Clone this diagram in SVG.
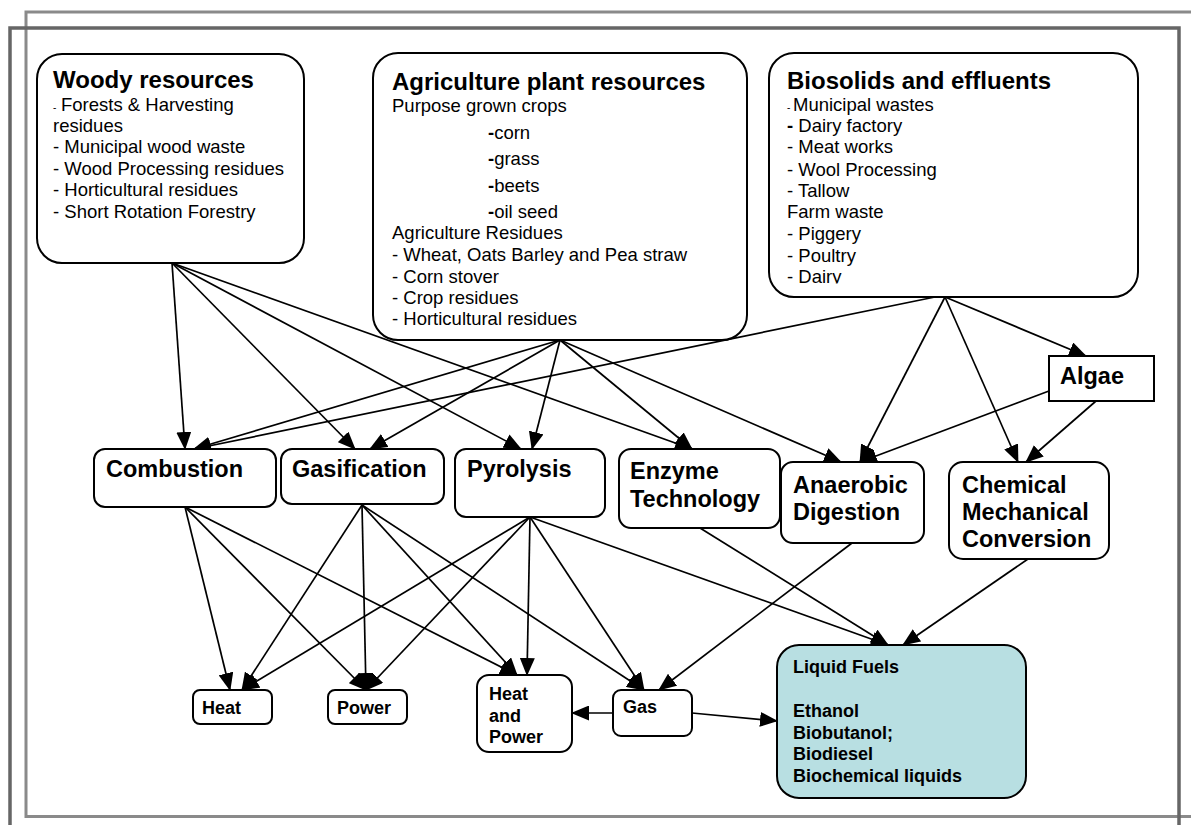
<svg xmlns="http://www.w3.org/2000/svg" width="1191" height="825" viewBox="0 0 1191 825">
<style>
.box{fill:#fff;stroke:#000;stroke-width:2}
.t{font-family:"Liberation Sans",Arial,Helvetica,sans-serif;fill:#000}
.title{font-size:24px;font-weight:bold}
.body{font-size:18.5px}
.mid{font-size:23.5px;font-weight:bold}
.sm{font-size:18px;font-weight:bold}
.conn line{stroke:#000;stroke-width:1.7;marker-end:url(#ah)}
</style>
<defs>
<marker id="ah" markerWidth="18" markerHeight="15" refX="17" refY="7.5" orient="auto" markerUnits="userSpaceOnUse"><path d="M0,0 L18,7.5 L0,15 z" fill="#000"/></marker>
<clipPath id="bioclip"><rect x="760" y="40" width="400" height="243.5"/></clipPath>
</defs>
<rect width="1191" height="825" fill="#fff"/>
<g id="frame" fill="none">
<rect x="26" y="12" width="1180" height="804.5" stroke="#8a8a8a" stroke-width="3"/>
<rect x="10" y="28" width="1169" height="810" stroke="#666" stroke-width="3.5"/>
</g>
<g id="connectors" class="conn">
<line x1="172" y1="263" x2="185" y2="449"/>
<line x1="172" y1="263" x2="355" y2="449"/>
<line x1="172" y1="263" x2="521" y2="449"/>
<line x1="172" y1="263" x2="692" y2="449"/>
<line x1="560" y1="340" x2="194" y2="449"/>
<line x1="560" y1="340" x2="370" y2="449"/>
<line x1="560" y1="340" x2="532" y2="449"/>
<line x1="560" y1="340" x2="692" y2="449"/>
<line x1="560" y1="340" x2="841" y2="462"/>
<line x1="935" y1="297" x2="194" y2="449"/>
<line x1="945" y1="297" x2="860" y2="462"/>
<line x1="945" y1="297" x2="1018" y2="462"/>
<line x1="945" y1="297" x2="1086" y2="356"/>
<line x1="1049" y1="391" x2="860" y2="462"/>
<line x1="1096" y1="401" x2="1026" y2="462"/>
<line x1="185" y1="507" x2="230" y2="690"/>
<line x1="185" y1="507" x2="366" y2="690"/>
<line x1="185" y1="507" x2="517" y2="675"/>
<line x1="362" y1="505" x2="242" y2="690"/>
<line x1="362" y1="505" x2="366" y2="690"/>
<line x1="362" y1="505" x2="517" y2="675"/>
<line x1="362" y1="505" x2="644" y2="690"/>
<line x1="530" y1="517" x2="242" y2="690"/>
<line x1="530" y1="517" x2="366" y2="690"/>
<line x1="530" y1="517" x2="527" y2="675"/>
<line x1="530" y1="517" x2="644" y2="690"/>
<line x1="530" y1="517" x2="888" y2="645"/>
<line x1="700" y1="528" x2="888" y2="645"/>
<line x1="852" y1="543" x2="659" y2="690"/>
<line x1="1028" y1="559" x2="903" y2="645"/>
<line x1="613" y1="713" x2="572" y2="713"/>
<line x1="692" y1="713" x2="777" y2="721"/>
</g>
<g id="woody">
<rect class="box" x="37" y="54" width="267" height="209" rx="25"/>
<text class="t title" x="53" y="88">Woody resources</text>
<text class="t body" x="53" y="111"><tspan font-size="10">-</tspan><tspan x="61">Forests &amp; Harvesting</tspan></text>
<text class="t body" x="53" y="132">residues</text>
<text class="t body" x="53" y="153">- Municipal wood waste</text>
<text class="t body" x="53" y="175">- Wood Processing residues</text>
<text class="t body" x="53" y="196">- Horticultural residues</text>
<text class="t body" x="53" y="218">- Short Rotation Forestry</text>
</g>
<g id="agriculture">
<rect class="box" x="373" y="53" width="374" height="287" rx="25"/>
<text class="t title" x="392" y="90">Agriculture plant resources</text>
<text class="t body" x="392" y="112">Purpose grown crops</text>
<text class="t body" x="488" y="139"><tspan font-weight="bold">-</tspan>corn</text>
<text class="t body" x="488" y="165"><tspan font-weight="bold">-</tspan>grass</text>
<text class="t body" x="488" y="192"><tspan font-weight="bold">-</tspan>beets</text>
<text class="t body" x="488" y="218"><tspan font-weight="bold">-</tspan>oil seed</text>
<text class="t body" x="392" y="239">Agriculture Residues</text>
<text class="t body" x="392" y="261">- Wheat, Oats Barley and Pea straw</text>
<text class="t body" x="392" y="283">- Corn stover</text>
<text class="t body" x="392" y="304">- Crop residues</text>
<text class="t body" x="392" y="325">- Horticultural residues</text>
</g>
<g id="biosolids">
<rect class="box" x="769" y="53" width="369" height="244" rx="25"/>
<text class="t title" x="787" y="89">Biosolids and effluents</text>
<g clip-path="url(#bioclip)">
<text class="t body" x="787" y="111"><tspan font-size="10">-</tspan><tspan x="793">Municipal wastes</tspan></text>
<text class="t body" x="787" y="132"><tspan font-weight="bold">-</tspan> Dairy factory</text>
<text class="t body" x="787" y="153">- Meat works</text>
<text class="t body" x="787" y="176">- Wool Processing</text>
<text class="t body" x="787" y="197">- Tallow</text>
<text class="t body" x="787" y="218">Farm waste</text>
<text class="t body" x="787" y="240">- Piggery</text>
<text class="t body" x="787" y="262">- Poultry</text>
<text class="t body" x="787" y="283">- Dairy</text>
</g>
</g>
<g id="combustion">
<rect class="box" x="94" y="449" width="182" height="58" rx="11"/>
<text class="t mid" x="106" y="477">Combustion</text>
</g>
<g id="gasification">
<rect class="box" x="281" y="449" width="163" height="55" rx="11"/>
<text class="t mid" x="292" y="477">Gasification</text>
</g>
<g id="pyrolysis">
<rect class="box" x="455" y="449" width="150" height="68" rx="11"/>
<text class="t mid" x="467" y="477">Pyrolysis</text>
</g>
<g id="enzyme">
<rect class="box" x="619" y="449" width="161" height="79" rx="12"/>
<text class="t mid" x="630" y="479">Enzyme</text>
<text class="t mid" x="630" y="507">Technology</text>
</g>
<g id="anaerobic">
<rect class="box" x="781" y="462" width="143" height="81" rx="12"/>
<text class="t mid" x="793" y="493">Anaerobic</text>
<text class="t mid" x="793" y="520">Digestion</text>
</g>
<g id="chemical">
<rect class="box" x="949" y="462" width="160" height="97" rx="14"/>
<text class="t mid" x="962" y="493">Chemical</text>
<text class="t mid" x="962" y="520">Mechanical</text>
<text class="t mid" x="962" y="547">Conversion</text>
</g>
<g id="algae">
<rect class="box" x="1049" y="356" width="105" height="45"/>
<text class="t mid" x="1060" y="384">Algae</text>
</g>
<g id="heat">
<rect class="box" x="193" y="690" width="79" height="34" rx="7"/>
<text class="t sm" x="202" y="714">Heat</text>
</g>
<g id="power">
<rect class="box" x="328" y="690" width="79" height="34" rx="7"/>
<text class="t sm" x="337" y="714">Power</text>
</g>
<g id="heatpower">
<rect class="box" x="477" y="675" width="95" height="77" rx="12"/>
<text class="t sm" x="489" y="700">Heat</text>
<text class="t sm" x="489" y="722">and</text>
<text class="t sm" x="489" y="743">Power</text>
</g>
<g id="gas">
<rect class="box" x="613" y="690" width="79" height="46" rx="8"/>
<text class="t sm" x="623" y="713">Gas</text>
</g>
<g id="liquidfuels">
<rect class="box" x="777" y="645" width="249" height="153" rx="22" style="fill:#b8dfe2"/>
<text class="t sm" x="793" y="673">Liquid Fuels</text>
<text class="t sm" x="793" y="717">Ethanol</text>
<text class="t sm" x="793" y="739">Biobutanol;</text>
<text class="t sm" x="793" y="760">Biodiesel</text>
<text class="t sm" x="793" y="782">Biochemical liquids</text>
</g>
</svg>
